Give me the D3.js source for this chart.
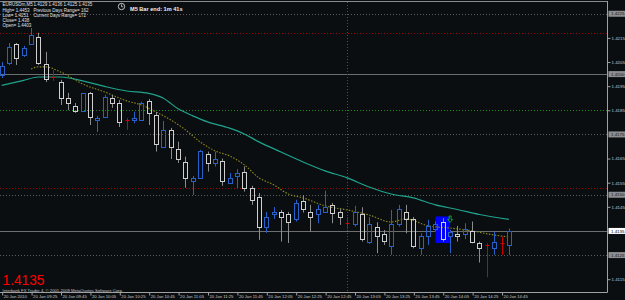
<!DOCTYPE html>
<html>
<head>
<meta charset="utf-8">
<script src="https://cdn.jsdelivr.net/npm/d3@7/dist/d3.min.js"></script>
<style>
  body { margin: 0; background: #0b0e11; }
  svg { display: block; }
  text { font-family: "Liberation Sans", Arial, sans-serif; }
</style>
</head>
<body>
<div id="chart"></div>
<script>
// EURUSDm M5, one bar every 5 minutes from 09:05 to 14:50 (70 bars)
var opens = [1.41997, 1.42046, 1.42125, 1.42079, 1.42125, 1.42154, 1.42042, 1.41988, 1.41967, 1.41901,
  1.41868, 1.41847, 1.41922, 1.41810, 1.41824, 1.41901, 1.41880, 1.41810, 1.41810, 1.41810,
  1.41890, 1.41831, 1.41699, 1.41769, 1.41690, 1.41637, 1.41558, 1.41568, 1.41669, 1.41631,
  1.41640, 1.41548, 1.41578, 1.41596, 1.41529, 1.41492, 1.41368, 1.41420, 1.41429, 1.41420,
  1.41399, 1.41476, 1.41428, 1.41419, 1.41428, 1.41458, 1.41428, 1.41384, 1.41378, 1.41420,
  1.41306, 1.41368, 1.41338, 1.41289, 1.41378, 1.41428, 1.41399, 1.41278, 1.41329, 1.41357,
  1.41386, 1.41329, 1.41338, 1.41336, 1.41350, 1.41299, 1.41292, 1.41278, 1.41302, 1.4129];
var highs = [1.42050, 1.42129, 1.42129, 1.42117, 1.42191, 1.42171, 1.42092, 1.42017, 1.41976, 1.41922,
  1.41880, 1.41922, 1.41926, 1.41827, 1.41914, 1.41914, 1.41893, 1.41818, 1.41844, 1.41886,
  1.41897, 1.41843, 1.41806, 1.41777, 1.41720, 1.41658, 1.41578, 1.41686, 1.41679, 1.41679,
  1.41650, 1.41590, 1.41606, 1.41617, 1.41537, 1.41507, 1.41429, 1.41449, 1.41437, 1.41429,
  1.41479, 1.41499, 1.41458, 1.41458, 1.41517, 1.41466, 1.41440, 1.41408, 1.41454, 1.41448,
  1.41407, 1.41386, 1.41354, 1.41437, 1.41458, 1.41458, 1.41408, 1.41340, 1.41396, 1.41389,
  1.41403, 1.41354, 1.41371, 1.41382, 1.41389, 1.41306, 1.41299, 1.41347, 1.41326, 1.4136];
var lows = [1.41984, 1.42038, 1.42038, 1.42071, 1.42121, 1.42038, 1.41967, 1.41972, 1.41872, 1.41851,
  1.41839, 1.41843, 1.41789, 1.41760, 1.41818, 1.41860, 1.41781, 1.41769, 1.41796, 1.41806,
  1.41789, 1.41679, 1.41694, 1.41648, 1.41632, 1.41529, 1.41499, 1.41566, 1.41596, 1.41617,
  1.41537, 1.41545, 1.41527, 1.41513, 1.41458, 1.41313, 1.41342, 1.41400, 1.41306, 1.41300,
  1.41389, 1.41426, 1.41347, 1.41382, 1.41425, 1.41382, 1.41375, 1.41357, 1.41368, 1.41306,
  1.41296, 1.41258, 1.41292, 1.41251, 1.41368, 1.41340, 1.41278, 1.41251, 1.41292, 1.41350,
  1.41306, 1.41258, 1.41306, 1.41316, 1.41299, 1.41219, 1.41158, 1.41251, 1.41251, 1.4125];
var closes = [1.42034, 1.42113, 1.42067, 1.42108, 1.42162, 1.42046, 1.41980, 1.41988, 1.41901, 1.41880,
  1.41847, 1.41922, 1.41822, 1.41820, 1.41907, 1.41880, 1.41803, 1.41810, 1.41820, 1.41880,
  1.41838, 1.41711, 1.41769, 1.41699, 1.41648, 1.41568, 1.41568, 1.41683, 1.41631, 1.41648,
  1.41558, 1.41571, 1.41589, 1.41527, 1.41479, 1.41368, 1.41408, 1.41430, 1.41407, 1.41386,
  1.41467, 1.41440, 1.41409, 1.41440, 1.41448, 1.41426, 1.41409, 1.41384, 1.41428, 1.41316,
  1.41378, 1.41329, 1.41309, 1.41378, 1.41440, 1.41399, 1.41288, 1.41329, 1.41371, 1.41378,
  1.41316, 1.41347, 1.41329, 1.41357, 1.41306, 1.41278, 1.41292, 1.41306, 1.41302, 1.4135];

// moving averages, [bar, price]
var tealMA = [[0, 1.41953], [3, 1.41974], [5, 1.41988], [8, 1.41988], [11, 1.41972], [14, 1.41949],
  [17, 1.41930], [20, 1.41920], [22, 1.41900], [24, 1.41856], [26, 1.41827], [28, 1.41802],
  [31, 1.41776], [33, 1.41752], [35, 1.41719], [38, 1.41677], [41, 1.41636], [44, 1.41599],
  [47, 1.41570], [50, 1.41532], [53, 1.41503], [56, 1.41487], [59, 1.41458], [62, 1.41439],
  [65, 1.41418], [69, 1.41398]];
var oliveMA = [[4, 1.42021], [5, 1.42030], [6, 1.42030], [8, 1.42009], [11, 1.41959], [14, 1.41926],
  [17, 1.41889], [19, 1.41872], [21, 1.41843], [23, 1.41810], [25, 1.41769], [27, 1.41719],
  [29, 1.41682], [31, 1.41661], [33, 1.41624], [35, 1.41570], [37, 1.41541], [39, 1.41503],
  [41, 1.41487], [44, 1.41454], [47, 1.41437], [50, 1.41416], [53, 1.41387], [55, 1.41400],
  [58, 1.41371], [61, 1.41362], [64, 1.41350], [67, 1.41333], [69, 1.41325]];

// horizontal levels
var roundLevels = [1.4225, 1.4175, 1.4150, 1.4125];
var solidLevels = [1.4200, 1.4135];
var redLevels = [1.42169, 1.41527];
var greenLevels = [1.4185];
var markedPrices = [1.4225, 1.4200, 1.4175, 1.4150, 1.4125];
var bidPrice = 1.4135;
var vlineBar = 47;
var boxBars = [59, 61];
var boxPrices = [1.41410, 1.41300];
var arrowBar = 61;
var arrowPrice = 1.41412;

var priceTicks = [1.4115, 1.4145, 1.4155, 1.4165, 1.4185, 1.4195, 1.4205, 1.4215];
var tickBars = [0, 4, 8, 12, 16, 20, 24, 28, 32, 36, 40, 44, 48, 52, 56, 60, 64, 68];
var tickLabels = ["20 Jan 2010", "20 Jan 09:25", "20 Jan 09:45", "20 Jan 10:05", "20 Jan 10:25",
  "20 Jan 10:45", "20 Jan 11:05", "20 Jan 11:25", "20 Jan 11:45", "20 Jan 12:05", "20 Jan 12:25",
  "20 Jan 12:45", "20 Jan 13:05", "20 Jan 13:25", "20 Jan 13:45", "20 Jan 14:05", "20 Jan 14:25",
  "20 Jan 14:45"];

var headerLines = [
  ["EURUSDm,M5", "1.4129 1.4136 1.4125 1.4135"],
  ["High= 1.4453", "Previous Days Range= 162"],
  ["Low= 1.4251", "Current Days Range= 172"],
  ["Close= 1.438", ""],
  ["Open= 1.4403", ""]
];

var svgWidth = 625;
var svgHeight = 300;
var plotRight = 607.5;
var plotBottom = 292.5;

var svg = d3.select("#chart")
  .append("svg")
  .attr("width", svgWidth)
  .attr("height", svgHeight);

svg.append("rect")
  .attr("width", svgWidth)
  .attr("height", svgHeight)
  .attr("fill", "#0b0e11");

var x = d3.scaleLinear().domain([0, 69]).range([1.7, 508.9]);
var y = d3.scaleLinear().domain([1.4115, 1.4215]).range([279.2, 37.9]);

function px(v) { return Math.round(v) + 0.5; }

// level lines
var levels = svg.append("g");
function hlines(list, color, dash) {
  levels.selectAll(null)
    .data(list)
    .enter()
    .append("line")
    .attr("x1", 0)
    .attr("x2", plotRight)
    .attr("y1", d => px(y(d)))
    .attr("y2", d => px(y(d)))
    .attr("stroke", color)
    .attr("stroke-width", 1)
    .attr("stroke-dasharray", dash);
}
hlines(roundLevels, "#5c5c5c", "1,2");
hlines(redLevels, "#a80000", "1,2");
hlines(greenLevels, "#1f8a1f", "1,2");
hlines(solidLevels, "#6e6e6e", null);

levels.append("line")
  .attr("x1", px(x(vlineBar)))
  .attr("x2", px(x(vlineBar)))
  .attr("y1", 2)
  .attr("y2", plotBottom)
  .attr("stroke", "#2a5a8c")
  .attr("stroke-dasharray", "1,2");

// blue selection box
svg.append("rect")
  .attr("x", x(boxBars[0]))
  .attr("y", y(boxPrices[0]))
  .attr("width", x(boxBars[1]) - x(boxBars[0]))
  .attr("height", y(boxPrices[1]) - y(boxPrices[0]))
  .attr("fill", "#0000ff");

// moving averages
var maLine = d3.line()
  .x(d => x(d[0]))
  .y(d => y(d[1]))
  .curve(d3.curveMonotoneX);

svg.append("path")
  .attr("d", maLine(tealMA))
  .attr("fill", "none")
  .attr("stroke", "#1fa38c")
  .attr("stroke-width", 1.2);

svg.append("path")
  .attr("d", maLine(oliveMA))
  .attr("fill", "none")
  .attr("stroke", "#8f8a1e")
  .attr("stroke-width", 1.1)
  .attr("stroke-dasharray", "1.5,1.5");

// candles
var bars = d3.range(opens.length).map(i => ({
  i: i, o: opens[i], h: highs[i], l: lows[i], c: closes[i]
}));

function colorOf(d) {
  if (d.c === d.o) return "#d00000";
  return d.c > d.o ? "#2660c8" : "#cfcfcf";
}
function wickOf(d) {
  if (d.c === d.o) return "#d00000";
  return d.c > d.o ? "#2660c8" : "#8c8c8c";
}

var candles = svg.append("g").selectAll("g")
  .data(bars)
  .enter()
  .append("g");

candles.each(function(d) {
  var g = d3.select(this);
  var cx = px(x(d.i));
  var top = px(y(Math.max(d.o, d.c)));
  var bot = px(y(Math.min(d.o, d.c)));
  g.append("line")
    .attr("x1", cx).attr("x2", cx)
    .attr("y1", y(d.h)).attr("y2", top)
    .attr("stroke", wickOf(d));
  g.append("line")
    .attr("x1", cx).attr("x2", cx)
    .attr("y1", bot).attr("y2", y(d.l))
    .attr("stroke", wickOf(d));
  if (d.o === d.c) {
    g.append("line")
      .attr("x1", cx - 2).attr("x2", cx + 2)
      .attr("y1", top).attr("y2", top)
      .attr("stroke", colorOf(d));
  } else {
    g.append("rect")
      .attr("x", cx - 2)
      .attr("y", top)
      .attr("width", 4)
      .attr("height", Math.max(1, bot - top))
      .attr("fill", "none")
      .attr("stroke", colorOf(d));
  }
});

// green arrow over the box
var ax = x(arrowBar), ay = y(arrowPrice);
svg.append("path")
  .attr("d", `M${ax - 1},${ay} h2 v3.5 h1.5 l-2.5,3 l-2.5,-3 h1.5 z`)
  .attr("fill", "none")
  .attr("stroke", "#16c016")
  .attr("stroke-width", 0.8);

// frame
svg.append("line")
  .attr("x1", 0).attr("x2", plotRight)
  .attr("y1", 1.5).attr("y2", 1.5)
  .attr("stroke", "#8a8a8a");
svg.append("line")
  .attr("x1", plotRight).attr("x2", plotRight)
  .attr("y1", 1).attr("y2", plotBottom)
  .attr("stroke", "#a0a0a0");
svg.append("line")
  .attr("x1", 0).attr("x2", plotRight)
  .attr("y1", plotBottom).attr("y2", plotBottom)
  .attr("stroke", "#a0a0a0");

// price axis
var rightAxis = d3.axisRight(y)
  .tickValues(priceTicks)
  .tickSize(3)
  .tickFormat(d3.format(".4f"));

var yAxis = svg.append("g")
  .attr("transform", `translate(${plotRight}, 0)`)
  .call(rightAxis);
yAxis.select(".domain").remove();
yAxis.selectAll("line").attr("stroke", "#a0a0a0");
yAxis.selectAll("text")
  .attr("x", 4)
  .attr("fill", "#c8c8c8")
  .attr("font-size", "4.4px");

// highlighted level labels
var marks = svg.append("g").selectAll("g")
  .data(markedPrices)
  .enter()
  .append("g")
  .attr("transform", d => `translate(${plotRight + 1}, ${y(d)})`);
marks.append("rect")
  .attr("x", 0).attr("y", -3)
  .attr("width", 17).attr("height", 6)
  .attr("fill", "#8e8e8e");
marks.append("text")
  .attr("x", 2.5).attr("y", 1.6)
  .attr("font-size", "4.4px")
  .attr("fill", "#1c1c1c")
  .text(d => d3.format(".4f")(d));

var bid = svg.append("g")
  .attr("transform", `translate(${plotRight + 1}, ${y(bidPrice)})`);
bid.append("rect")
  .attr("x", 0).attr("y", -3)
  .attr("width", 17).attr("height", 6)
  .attr("fill", "#ffffff");
bid.append("text")
  .attr("x", 2.5).attr("y", 1.6)
  .attr("font-size", "4.4px")
  .attr("fill", "#000000")
  .text(d3.format(".4f")(bidPrice));

// time axis
var bottomAxis = d3.axisBottom(x)
  .tickValues(tickBars)
  .tickSize(3)
  .tickFormat((d, i) => tickLabels[i]);

var xAxis = svg.append("g")
  .attr("transform", `translate(0, ${plotBottom})`)
  .call(bottomAxis);
xAxis.select(".domain").remove();
xAxis.selectAll("line")
  .attr("stroke", "#a0a0a0")
  .attr("transform", "translate(0.5,0)");
xAxis.selectAll("text")
  .attr("text-anchor", "start")
  .attr("x", 1.5)
  .attr("y", 2.2)
  .attr("dy", "0.71em")
  .attr("fill", "#c8c8c8")
  .attr("font-size", "4.2px");

// header info
var header = svg.append("g");
headerLines.forEach(function(row, k) {
  header.append("text")
    .attr("x", 2.5)
    .attr("y", 6.3 + k * 5.2)
    .attr("font-size", "4.5px")
    .attr("fill", "#e0e0e0")
    .text(row[0]);
  header.append("text")
    .attr("x", 33.5)
    .attr("y", 6.3 + k * 5.2)
    .attr("font-size", "4.5px")
    .attr("fill", "#e0e0e0")
    .text(row[1]);
});

// bar timer
header.append("circle")
  .attr("cx", 121.5).attr("cy", 6.5).attr("r", 3.2)
  .attr("fill", "none").attr("stroke", "#e8e8e8").attr("stroke-width", 0.8);
header.append("path")
  .attr("d", "M121.5,4.3 V6.7 H123.2")
  .attr("fill", "none").attr("stroke", "#e8e8e8").attr("stroke-width", 0.7);
header.append("text")
  .attr("x", 130)
  .attr("y", 11)
  .attr("font-size", "5.6px")
  .attr("font-weight", "bold")
  .attr("fill", "#f0f0f0")
  .text("M5 Bar end: 1m 41s");

// big price and copyright
svg.append("text")
  .attr("x", 2.5)
  .attr("y", 284.6)
  .attr("font-size", "15px")
  .attr("fill", "#ff0000")
  .attr("textLength", 42)
  .attr("lengthAdjust", "spacingAndGlyphs")
  .text(d3.format(".4f")(bidPrice));

svg.append("text")
  .attr("x", 2.5)
  .attr("y", 291.6)
  .attr("font-size", "4.2px")
  .attr("fill", "#c0c0c0")
  .text("Interbank FX Trader 4, \u00a9 2001-2009 MetaQuotes Software Corp.");
</script>
</body>
</html>
